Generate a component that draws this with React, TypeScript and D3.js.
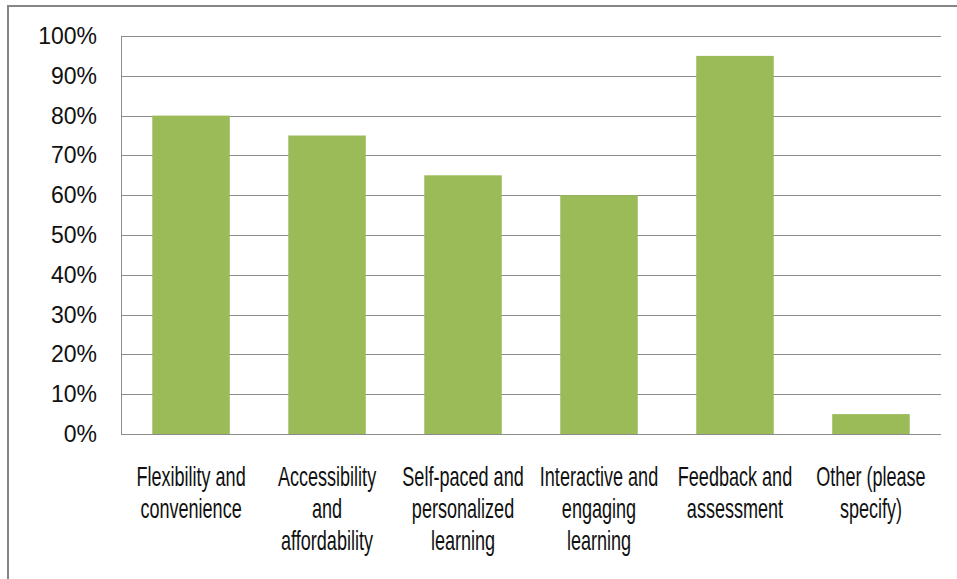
import React, { useEffect, useRef } from "react";
import * as d3 from "d3";

const categories: string[][] = [
  ["Flexibility and", "convenience"],
  ["Accessibility", "and", "affordability"],
  ["Self-paced and", "personalized", "learning"],
  ["Interactive and", "engaging", "learning"],
  ["Feedback and", "assessment"],
  ["Other (please", "specify)"],
];
const values: number[] = [80, 75, 65, 60, 95, 5];
const yTicks: number[] = [0, 10, 20, 30, 40, 50, 60, 70, 80, 90, 100];

const W = 957;
const H = 579;
const M = { left: 121, right: 16, top: 36, bottom: 145 };

export default function App() {
  const ref = useRef<SVGSVGElement>(null);
  useEffect(() => {
    const svg = d3.select(ref.current);
    svg.selectAll("*").remove();

    // outer frame
    svg.append("rect")
      .attr("x", 8).attr("y", 6).attr("width", W + 20).attr("height", H + 20)
      .attr("fill", "white").attr("stroke", "#868686").attr("stroke-width", 2);

    const x = d3.scaleBand<number>()
      .domain(d3.range(categories.length))
      .range([M.left, W - M.right])
      .paddingInner(0.43).paddingOuter(0.23);
    const y = d3.scaleLinear().domain([0, 100]).range([H - M.bottom, M.top]);

    const g = svg.append("g");
    // gridlines
    g.selectAll("line.grid").data(yTicks).enter().append("line")
      .attr("x1", M.left).attr("x2", W - M.right)
      .attr("y1", d => Math.round(y(d)) + 0.5).attr("y2", d => Math.round(y(d)) + 0.5)
      .attr("stroke", "#8c8c8c").attr("stroke-width", 1);
    // left axis line
    g.append("line")
      .attr("x1", M.left + 0.5).attr("x2", M.left + 0.5)
      .attr("y1", y(100)).attr("y2", y(0))
      .attr("stroke", "#8c8c8c");

    // bars
    g.selectAll("rect.bar").data(values).enter().append("rect")
      .attr("x", (_, i) => x(i)!)
      .attr("width", x.bandwidth())
      .attr("y", d => y(d))
      .attr("height", d => y(0) - y(d))
      .attr("fill", "#9BBB59");

    // y tick labels
    g.selectAll("text.yt").data(yTicks).enter().append("text")
      .attr("x", 97).attr("y", d => y(d) + 8)
      .attr("text-anchor", "end")
      .attr("font-family", "Liberation Sans, Arial, sans-serif")
      .attr("font-size", 23)
      .attr("fill", "#111")
      .text(d => `${d}%`);

    // category labels
    categories.forEach((lines, i) => {
      const cx = x(i)! + x.bandwidth() / 2;
      lines.forEach((ln, j) => {
        g.append("text")
          .attr("transform", `translate(${cx},${486 + j * 32}) scale(0.86,1.3)`)
          .attr("text-anchor", "middle")
          .attr("font-family", "Liberation Sans Narrow, Liberation Sans, sans-serif")
          .attr("font-size", 21)
          .attr("fill", "#111")
          .text(ln);
      });
    });
  }, []);
  return (
    <svg ref={ref} width={W} height={H}
      style={{ position: "absolute", left: 0, top: 0, background: "white" }} />
  );
}
